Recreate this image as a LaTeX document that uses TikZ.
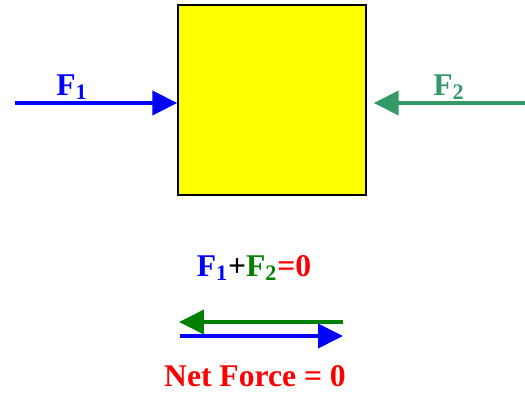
\documentclass[tikz,border=0pt]{standalone}
\usepackage{fontspec}
\setmainfont{Liberation Serif}
\usetikzlibrary{arrows.meta,positioning}
\definecolor{ForceBlue}{HTML}{0000FF}
\definecolor{SeaGreen}{HTML}{339966}
\definecolor{SumGreen}{HTML}{008000}
\definecolor{NetRed}{HTML}{FF0000}
\definecolor{BoxYellow}{HTML}{FFFF00}

\begin{document}
\begin{tikzpicture}[
        x=0.02cm, y=-0.02cm,
        every node/.style={font=\bfseries\fontsize{18}{20}\selectfont},
        block/.style={draw=black, line width=0.8pt, fill=BoxYellow, minimum width=3.76cm, minimum height=3.8cm, inner sep=0pt},
        force/.style={line width=2.2pt, -{Triangle[length=0.5cm,width=0.48cm]}}
    ]
        \useasboundingbox (0,0) rectangle (525,393);
        \node[block] (box) at (272,100) {};

        % forces on the block
        \coordinate (f1start) at (15,103);
        \coordinate (f2start) at (525,103);
        \draw[force, draw=ForceBlue, fill=ForceBlue] (f1start) -- (box.west |- f1start);
        \draw[force, draw=SeaGreen, fill=SeaGreen] (f2start) -- ([xshift=4]box.east |- f2start);
        \node[text=ForceBlue] (f1label) at (72,87) {F$_{\mathbf 1}$};
        \node[text=SeaGreen] (f2label) at (449,87) {F$_{\mathbf 2}$};

        % vector sum
        \node (sum) at (254,268) {\textcolor{ForceBlue}{F$_{\mathbf 1}$}+\textcolor{SumGreen}{F$_{\mathbf 2}$}\textcolor{NetRed}{=0}};
        \coordinate (g1) at (343,322);
        \coordinate (g2) at (179,322);
        \coordinate (b1) at (180,336);
        \coordinate (b2) at (343,336);
        \draw[force, draw=SumGreen, fill=SumGreen] (g1) -- (g2);
        \draw[force, draw=ForceBlue, fill=ForceBlue] (b1) -- (b2);
        \node[text=NetRed] (net) at (255,376) {Net Force = 0};
    \end{tikzpicture}
\end{document}
